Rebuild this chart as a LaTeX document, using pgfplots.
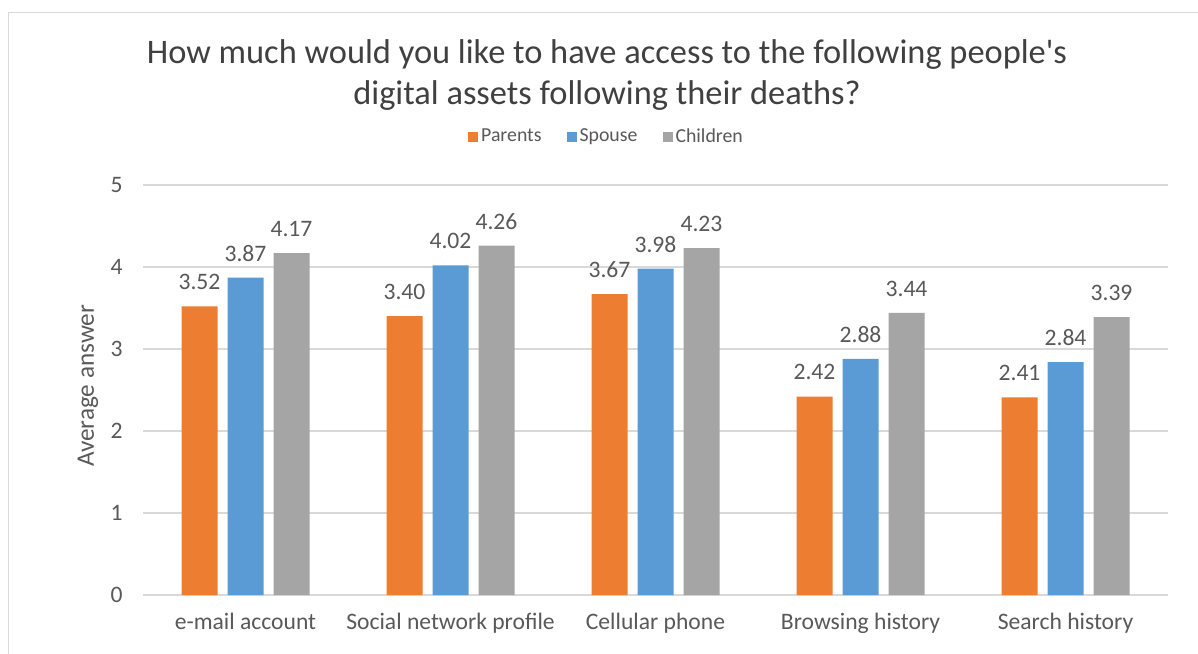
\documentclass[border=0pt]{standalone}
\usepackage{pgfplots}
\pgfplotsset{compat=1.18}
\usepackage{fontspec}
\defaultfontfeatures{}
\defaultfontfeatures[\rmfamily,\sffamily]{}
\setmainfont{Carlito}
\definecolor{cOrange}{HTML}{ED7D31}
\definecolor{cBlue}{HTML}{5B9BD5}
\definecolor{cGray}{HTML}{A5A5A5}
\definecolor{cGrid}{HTML}{D9D9D9}
\definecolor{cText}{HTML}{595959}
\definecolor{cTitle}{HTML}{404040}
\begin{document}
\begin{tikzpicture}
\useasboundingbox (0,0) rectangle (599pt,326.5pt);
\fill[white] (0,0) rectangle (599pt,326.5pt);
\draw[cGrid, line width=0.6pt] (4.15pt,-1pt) -- (4.15pt,320.3pt) -- (601pt,320.3pt);
\node[anchor=base, text=cTitle, inner sep=0pt, font=\fontsize{17.2}{20}\selectfont] at (303.5pt,294.5pt) {How much would you like to have access to the following people\textquotesingle s};
\node[anchor=base, text=cTitle, inner sep=0pt, font=\fontsize{17.2}{20}\selectfont] at (303.5pt,274pt) {digital assets following their deaths?};
\begin{axis}[
  at={(71.5pt,29pt)}, anchor=south west,
  width=512.5pt, height=205pt, scale only axis,
  ybar, bar width=18pt,
  xmin=-0.5, xmax=4.5, ymin=0, ymax=5,
  xtick={0,1,2,3,4},
  xticklabels={e-mail account,Social network profile,Cellular phone,Browsing history,Search history},
  ytick={0,1,2,3,4,5},
  ymajorgrids, grid style={cGrid, line width=0.6pt},
  axis line style={draw=none},
  major tick length=0pt,
  /pgf/number format/assume math mode=true,
  tick label style={text=cText, font=\fontsize{11.8}{14}\selectfont},
  yticklabel style={anchor=east, inner sep=0pt, xshift=-10pt},
  xticklabel style={anchor=base, yshift=-17pt},
  ylabel={Average answer},
  ylabel style={at={(axis description cs:-0.0537,0.51)}, anchor=center, text=cText, font=\fontsize{12.6}{15}\selectfont},
  nodes near coords={\pgfmathprintnumber[fixed,fixed zerofill,precision=2]{\pgfplotspointmeta}},
  every node near coord/.append style={font=\fontsize{11.8}{14}\selectfont, text=cText, anchor=south, inner sep=0pt, yshift=8pt},
  legend columns=3,
  legend style={at={(axis description cs:0.4527,1.117)}, anchor=center, draw=none, fill=none,
    font=\fontsize{9.9}{12}\selectfont, text=cText,
    /tikz/every even column/.append style={column sep=11pt},
    nodes={inner sep=1.5pt}},
  legend image code/.code={\fill[#1] (0pt,-2.5pt) rectangle (5pt,2.5pt);},
]
\addplot[fill=cOrange, draw=none, bar shift=-23pt] coordinates {(0,3.52) (1,3.40) (2,3.67) (3,2.42) (4,2.41)};
\addplot[fill=cBlue, draw=none, bar shift=0pt] coordinates {(0,3.87) (1,4.02) (2,3.98) (3,2.88) (4,2.84)};
\addplot[fill=cGray, draw=none, bar shift=23pt] coordinates {(0,4.17) (1,4.26) (2,4.23) (3,3.44) (4,3.39)};
\legend{Parents,Spouse,Children}
\end{axis}
\end{tikzpicture}
\end{document}
